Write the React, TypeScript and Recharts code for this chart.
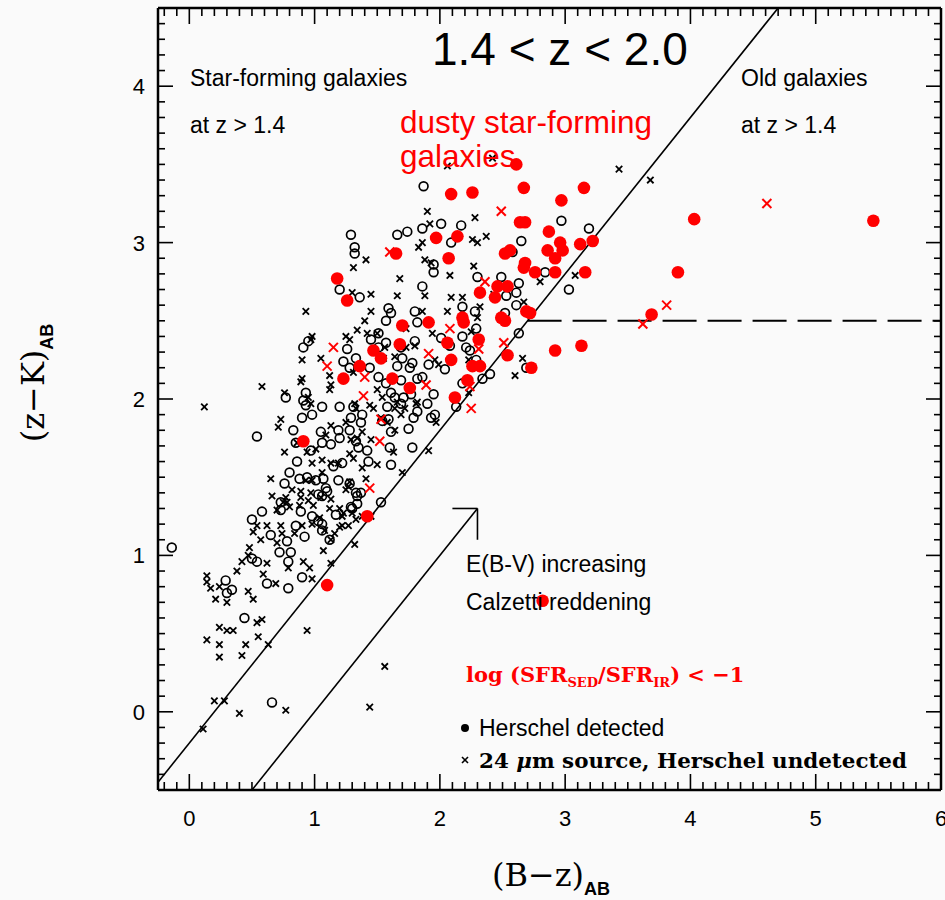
import React from "react";
import { ReferenceLine, Scatter, ScatterChart, XAxis, YAxis } from "recharts";

// (B-z, z-K) colours
const herschelDetected = [
  [1.87, 3.36], [2.01, 3.12], [1.86, 3.09], [1.74, 3.07], [1.66, 3.05], [1.29, 3.05], [1.32, 2.97], [1.95, 2.86],
  [1.95, 2.81], [1.86, 2.72], [1.2, 2.7], [1.36, 2.65], [2.17, 3.11], [2.09, 3.0], [2.58, 2.94], [2.65, 3.01],
  [2.97, 3.14], [3.19, 3.09], [3.03, 2.7], [2.84, 2.81], [2.3, 2.78], [2.49, 2.78], [2.63, 2.74], [2.61, 2.68],
  [2.53, 2.66], [1.8, 2.56], [1.82, 2.49], [2.18, 2.59], [2.28, 2.56], [2.52, 2.55], [2.61, 2.6], [2.29, 2.45],
  [2.18, 2.4], [2.01, 2.39], [1.8, 2.37], [2.08, 2.34], [2.21, 2.33], [2.24, 2.31], [2.63, 2.42], [1.91, 2.22],
  [2.04, 2.19], [2.29, 2.25], [1.7, 2.26], [1.76, 2.2], [1.82, 2.13], [1.86, 2.14], [2.18, 2.1], [2.34, 2.13],
  [2.4, 2.16], [2.69, 2.2], [1.71, 2.01], [1.77, 2.03], [1.95, 2.03], [1.9, 1.97], [2.13, 1.95], [1.79, 1.88],
  [1.82, 1.92], [1.93, 1.88], [1.96, 1.9], [1.75, 1.81], [1.78, 1.69], [1.32, 2.93], [1.59, 2.58], [1.61, 2.55],
  [1.57, 2.5], [1.57, 2.36], [1.69, 2.33], [1.78, 2.23], [1.66, 2.21], [1.51, 2.42], [1.45, 2.38], [1.51, 2.33],
  [1.26, 2.32], [1.23, 2.24], [1.33, 2.26], [1.28, 2.2], [1.44, 2.2], [1.51, 2.14], [1.57, 2.1], [1.61, 2.04],
  [1.69, 2.12], [1.69, 1.97], [1.64, 2.01], [1.58, 1.95], [1.61, 1.79], [1.59, 1.87], [1.54, 1.86], [1.6, 1.69],
  [1.61, 1.58], [1.37, 1.85], [1.29, 1.88], [1.38, 1.9], [1.31, 1.95], [1.2, 1.95], [1.06, 1.95], [0.98, 1.9],
  [0.9, 1.88], [0.93, 1.96], [0.91, 1.99], [0.93, 2.04], [0.77, 2.01], [0.91, 2.33], [0.95, 2.37], [1.19, 1.8],
  [1.28, 1.8], [1.2, 1.75], [1.13, 1.71], [1.33, 1.73], [1.35, 1.69], [1.42, 1.67], [1.43, 1.6], [1.22, 1.59],
  [1.15, 1.57], [1.05, 1.79], [1.06, 1.72], [0.97, 1.67], [0.83, 1.8], [0.85, 1.72], [0.86, 1.6], [0.8, 1.53],
  [0.76, 1.46], [0.88, 1.49], [0.94, 1.5], [1.01, 1.48], [1.07, 1.49], [1.09, 1.43], [1.03, 1.39], [1.06, 1.38],
  [1.1, 1.41], [1.19, 1.48], [1.28, 1.46], [1.33, 1.4], [1.34, 1.38], [1.37, 1.4], [1.29, 1.31], [1.34, 1.33],
  [1.17, 1.26], [0.98, 1.25], [0.89, 1.28], [0.73, 1.29], [0.73, 1.34], [0.58, 1.28], [0.5, 1.23], [0.65, 1.13],
  [0.85, 1.19], [0.92, 1.12], [0.78, 1.09], [1.06, 1.2], [1.12, 1.1], [1.06, 1.16], [1.53, 1.34], [0.54, 1.76],
  [-0.14, 1.05], [0.81, 1.02], [0.79, 0.96], [0.72, 1.02], [0.5, 0.98], [0.54, 0.96], [0.29, 0.84], [0.34, 0.78],
  [0.3, 0.76], [0.62, 0.82], [0.79, 0.79], [0.9, 0.86], [0.44, 0.6], [0.66, 0.06], [1.03, 1.22], [1.3, 1.3],
];

const undetected24um = [
  [1.9, 3.2], [1.92, 3.12], [1.86, 3.0], [1.83, 2.97], [1.88, 2.89], [1.41, 2.89], [1.31, 2.84], [1.68, 2.77],
  [1.45, 2.67], [1.66, 2.66], [1.88, 2.66], [1.3, 2.68], [2.06, 3.49], [2.42, 3.54], [3.43, 3.47], [3.68, 3.4],
  [2.28, 3.16], [2.37, 3.04], [2.26, 3.02], [2.3, 3.0], [1.93, 2.87], [2.27, 2.85], [2.08, 2.79], [3.08, 2.79],
  [2.8, 2.75], [2.43, 2.67], [2.09, 2.65], [2.18, 2.65], [2.67, 2.62], [2.06, 2.56], [1.86, 2.56], [2.3, 2.52],
  [2.32, 2.59], [2.25, 2.43], [1.94, 2.42], [1.73, 2.45], [1.8, 2.34], [2.23, 2.25], [1.96, 2.25], [1.99, 2.22],
  [2.66, 2.26], [2.6, 2.15], [1.69, 2.33], [1.82, 1.98], [1.72, 1.94], [1.97, 1.85], [2.23, 2.04], [1.91, 1.67],
  [1.7, 1.53], [1.45, 2.56], [0.93, 2.56], [0.98, 2.4], [0.97, 2.38], [0.9, 2.25], [1.05, 2.26], [1.25, 2.4],
  [1.28, 2.38], [1.4, 2.5], [1.34, 2.44], [1.42, 2.42], [1.5, 2.42], [1.56, 2.33], [1.55, 2.26], [1.64, 2.27],
  [1.73, 2.33], [0.9, 2.13], [0.89, 2.11], [1.12, 2.15], [0.58, 2.08], [0.12, 1.95], [0.76, 2.04], [1.13, 2.09],
  [1.12, 2.06], [1.31, 2.17], [1.5, 2.06], [1.54, 2.01], [1.64, 1.94], [1.66, 1.98], [1.69, 1.9], [1.32, 1.97],
  [1.33, 1.94], [1.44, 1.96], [1.47, 1.94], [1.53, 1.88], [1.58, 1.85], [1.64, 1.8], [1.81, 1.97], [1.63, 1.66],
  [1.5, 1.58], [1.38, 1.56], [1.41, 1.49], [1.28, 1.47], [1.25, 1.42], [1.2, 1.3], [1.23, 1.27], [0.95, 2.01],
  [0.97, 1.97], [0.73, 1.87], [0.71, 1.82], [0.86, 1.72], [0.76, 1.66], [0.94, 1.66], [1.01, 1.68], [0.98, 1.59],
  [1.09, 1.77], [1.13, 1.83], [1.25, 1.85], [1.29, 1.74], [1.34, 1.75], [1.38, 1.79], [1.45, 1.74], [1.28, 1.65],
  [1.31, 1.62], [1.19, 1.59], [1.13, 1.59], [1.06, 1.61], [1.06, 1.53], [0.98, 1.48], [0.93, 1.48], [0.82, 1.42],
  [0.89, 1.41], [0.97, 1.4], [0.65, 1.49], [0.66, 1.38], [0.77, 1.37], [0.75, 1.34], [0.8, 1.31], [0.89, 1.37],
  [0.95, 1.35], [0.99, 1.32], [1.05, 1.37], [1.13, 1.36], [1.12, 1.3], [1.27, 1.44], [1.22, 1.25], [1.33, 1.23],
  [0.54, 1.19], [0.51, 1.15], [0.57, 1.1], [0.73, 1.19], [0.74, 1.14], [0.84, 1.14], [0.9, 1.19], [0.98, 1.2],
  [1.04, 1.24], [1.08, 1.16], [1.13, 1.1], [1.22, 1.19], [1.27, 1.19], [1.38, 1.25], [0.7, 1.08], [0.48, 1.05],
  [1.32, 1.07], [0.14, 0.87], [0.14, 0.83], [0.17, 0.79], [0.21, 0.72], [0.3, 0.7], [0.24, 0.8], [0.38, 0.9],
  [0.42, 0.96], [0.47, 1.0], [0.62, 0.95], [0.59, 0.88], [0.69, 0.82], [0.47, 0.77], [0.51, 0.72], [0.62, 1.19],
  [0.79, 0.92], [0.91, 0.96], [0.96, 0.92], [0.98, 0.85], [1.07, 1.03], [1.13, 0.95], [1.16, 1.14], [1.2, 1.18],
  [1.3, 1.27], [1.45, 1.25], [0.24, 0.54], [0.3, 0.52], [0.35, 0.52], [0.14, 0.46], [0.24, 0.43], [0.24, 0.35],
  [0.42, 0.36], [0.45, 0.43], [0.54, 0.57], [0.58, 0.59], [0.55, 0.48], [0.63, 0.43], [0.94, 0.52], [0.2, 0.07],
  [0.28, 0.07], [0.4, -0.01], [0.77, 0.01], [0.11, -0.11], [1.44, 0.03], [1.56, 0.29], [0.7, 1.29], [0.78, 1.34],
  [0.88, 1.32],
];

// log(SFR_SED/SFR_IR) < -1
const dustyDetected = [
  [2.61, 3.5], [2.09, 3.31], [2.26, 3.32], [2.67, 3.35], [3.15, 3.35], [2.97, 3.27], [2.64, 3.13], [2.68, 3.13],
  [2.87, 3.07], [1.97, 3.03], [2.14, 3.04], [2.96, 3.0], [3.12, 2.99], [3.22, 3.01], [4.03, 3.15], [5.46, 3.14],
  [2.86, 2.95], [2.98, 2.95], [2.52, 2.93], [2.56, 2.95], [2.92, 2.9], [2.07, 2.9], [2.68, 2.87], [2.67, 2.84],
  [2.76, 2.81], [2.92, 2.81], [3.16, 2.81], [3.9, 2.81], [2.32, 2.68], [2.46, 2.72], [2.54, 2.72], [2.44, 2.65],
  [2.18, 2.52], [2.19, 2.49], [1.91, 2.49], [1.7, 2.47], [2.49, 2.52], [2.52, 2.5], [2.69, 2.56], [2.72, 2.55],
  [3.69, 2.54], [2.31, 2.38], [2.06, 2.36], [1.68, 2.35], [2.54, 2.28], [2.92, 2.31], [3.13, 2.34], [2.09, 2.25],
  [2.26, 2.21], [2.32, 2.21], [2.73, 2.2], [2.22, 2.12], [1.76, 2.07], [2.12, 2.01], [1.65, 2.93], [1.18, 2.77],
  [1.26, 2.63], [1.47, 2.31], [1.53, 2.26], [1.36, 2.21], [1.23, 2.13], [1.62, 2.13], [0.91, 1.73], [1.42, 1.25],
  [1.1, 0.81], [2.82, 0.71],
];

const dustyUndetected = [
  [2.49, 3.2], [2.36, 2.75], [4.61, 3.25], [3.81, 2.6], [3.62, 2.48], [2.08, 2.45], [2.31, 2.32], [2.51, 2.36],
  [1.91, 2.29], [1.89, 2.09], [2.24, 2.08], [2.25, 1.94], [1.6, 2.94], [1.15, 2.33], [1.1, 2.21], [1.4, 2.14],
  [1.39, 2.02], [1.53, 1.87], [1.52, 1.73], [1.44, 1.43],
];

// selection boundaries and reddening vector, in data units
const colourCut = [[-0.25, -0.45], [4.7, 4.5]];
const oldCut = [[2.7, 2.5], [6, 2.5]];
const reddeningShaft = [[0.5, -0.5], [2.3, 1.3]];
const arrowHeadTop = [[2.1, 1.3], [2.3, 1.3]];
const arrowHeadSide = [[2.3, 1.3], [2.3, 1.1]];

const xTickLabels = [0, 1, 2, 3, 4, 5, 6];
const yTickLabels = [0, 1, 2, 3, 4];
const xMinorTicks = Array.from({ length: 63 }, (_, i) => (i - 2) / 10);
const yMinorTicks = Array.from({ length: 49 }, (_, i) => (i - 4) / 10);

const SANS = "'Liberation Sans', Arial, Helvetica, sans-serif";
const NARROW = "'Liberation Sans Narrow', 'Liberation Sans', Arial, sans-serif";
const SERIF = "'DejaVu Serif', 'Liberation Serif', serif";
const BG = "#fafafa";

const pts = (rows: number[][]) => rows.map(([x, y]) => ({ x, y }));
const seg = (rows: number[][]) => rows.map(([x, y]) => ({ x, y }));
const isMajor = (v: number) => Math.abs(v - Math.round(v)) < 1e-6;

function BottomTick({ x, y, payload }: any) {
  const v = payload.value;
  const major = isMajor(v);
  return (
    <g>
      <line x1={x} x2={x} y1={y} y2={y - (major ? 16 : 8)} stroke="#000" strokeWidth={1.6} />
      {major && xTickLabels.includes(Math.round(v)) && (
        <text x={x} y={y + 36} textAnchor="middle" fontSize={22} fontFamily={NARROW} fill="#000">
          {Math.round(v)}
        </text>
      )}
    </g>
  );
}

function TopTick({ x, y, payload }: any) {
  const major = isMajor(payload.value);
  return <line x1={x} x2={x} y1={y} y2={y + (major ? 16 : 8)} stroke="#000" strokeWidth={1.6} />;
}

function LeftTick({ x, y, payload }: any) {
  const v = payload.value;
  const major = isMajor(v);
  return (
    <g>
      <line x1={x} x2={x + (major ? 15 : 7)} y1={y} y2={y} stroke="#000" strokeWidth={1.6} />
      {major && yTickLabels.includes(Math.round(v)) && (
        <text x={x - 13} y={y + 8} textAnchor="end" fontSize={22} fontFamily={SANS} fill="#000">
          {Math.round(v)}
        </text>
      )}
    </g>
  );
}

function RightTick({ x, y, payload }: any) {
  const major = isMajor(payload.value);
  return <line x1={x} x2={x - (major ? 15 : 7)} y1={y} y2={y} stroke="#000" strokeWidth={1.6} />;
}

const OpenCircle = (p: any) => (
  <circle cx={p.cx} cy={p.cy} r={4.4} fill="none" stroke="#000" strokeWidth={1.7} />
);
const RedDot = (p: any) => <circle cx={p.cx} cy={p.cy} r={6.3} fill="#ff0000" />;
const cross = (h: number, color: string, w: number) => (p: any) => (
  <g stroke={color} strokeWidth={w}>
    <line x1={p.cx - h} y1={p.cy - h} x2={p.cx + h} y2={p.cy + h} />
    <line x1={p.cx - h} y1={p.cy + h} x2={p.cx + h} y2={p.cy - h} />
  </g>
);

function Annotations() {
  return (
    <svg width={945} height={900} style={{ position: "absolute", left: 0, top: 0, pointerEvents: "none" }}>
      <text x={432} y={65} fontSize={46} fontFamily={SANS} fill="#000">1.4 &lt; z &lt; 2.0</text>
      <g fontSize={23} fontFamily={SANS} fill="#000">
        <text x={190} y={86}>Star-forming galaxies</text>
        <text x={190} y={133}>at z &gt; 1.4</text>
        <text x={741} y={86}>Old galaxies</text>
        <text x={741} y={133}>at z &gt; 1.4</text>
        <text x={466} y={572}>E(B-V) increasing</text>
        <text x={466} y={610}>Calzetti reddening</text>
        <text x={479} y={736}>Herschel detected</text>
      </g>
      <g fontSize={31.5} fontFamily={SANS} fill="#ff0000">
        <text x={400} y={133}>dusty star-forming</text>
        <text x={400} y={167}>galaxies</text>
      </g>
      <text x={466} y={682} fontSize={21} fontFamily={SERIF} fontWeight="bold" fill="#ff0000">
        log (SFR<tspan fontSize={13} dy={5}>SED</tspan>
        <tspan dy={-5}>/SFR</tspan>
        <tspan fontSize={13} dy={5}>IR</tspan>
        <tspan dy={-5}>) &lt; −1</tspan>
      </text>
      <circle cx={465} cy={728} r={4} fill="#000" />
      <g stroke="#000" strokeWidth={1.6}>
        <line x1={462} y1={757} x2={468} y2={763} />
        <line x1={462} y1={763} x2={468} y2={757} />
      </g>
      <text x={479} y={768} fontSize={21} fontFamily={SERIF} fontWeight="bold" fill="#000" textLength={428} lengthAdjust="spacingAndGlyphs">
        24 <tspan fontStyle="italic">μ</tspan>m source, Herschel undetected
      </text>
      <text x={551} y={886} textAnchor="middle" fontFamily={SERIF} fill="#000">
        <tspan fontSize={32}>(B−z)</tspan>
        <tspan fontSize={18} dy={9} fontFamily={NARROW} fontWeight="bold">AB</tspan>
      </text>
      <text transform="translate(44,383) rotate(-90)" textAnchor="middle" fontFamily={SERIF} fill="#000">
        <tspan fontSize={32}>(z−K)</tspan>
        <tspan fontSize={18} dy={9} fontFamily={NARROW} fontWeight="bold">AB</tspan>
      </text>
    </svg>
  );
}

export default function App() {
  const lineProps = { xAxisId: "b", yAxisId: "l", stroke: "#000", ifOverflow: "visible" as const };
  return (
    <div style={{ position: "absolute", left: 0, top: 0, width: 945, height: 900, background: BG, overflow: "hidden" }}>
      <ScatterChart width={945} height={900} margin={{ top: 4, right: 2, bottom: 70, left: 118 }}>
        <XAxis xAxisId="b" type="number" dataKey="x" domain={[-0.25, 6]} allowDataOverflow ticks={xMinorTicks}
          interval={0} height={40} tickSize={0} tickMargin={0} tickLine={false}
          axisLine={{ stroke: "#000", strokeWidth: 2.5 }} tick={(p: any) => <BottomTick {...p} />} />
        <XAxis xAxisId="t" orientation="top" type="number" dataKey="x" domain={[-0.25, 6]} allowDataOverflow
          ticks={xMinorTicks} interval={0} height={4} tickSize={0} tickMargin={0} tickLine={false}
          axisLine={{ stroke: "#000", strokeWidth: 2.5 }} tick={(p: any) => <TopTick {...p} />} />
        <YAxis yAxisId="l" type="number" dataKey="y" domain={[-0.5, 4.5]} allowDataOverflow ticks={yMinorTicks}
          interval={0} width={40} tickSize={0} tickMargin={0} tickLine={false}
          axisLine={{ stroke: "#000", strokeWidth: 2.5 }} tick={(p: any) => <LeftTick {...p} />} />
        <YAxis yAxisId="r" orientation="right" type="number" dataKey="y" domain={[-0.5, 4.5]} allowDataOverflow
          ticks={yMinorTicks} interval={0} width={2} tickSize={0} tickMargin={0} tickLine={false}
          axisLine={{ stroke: "#000", strokeWidth: 2.5 }} tick={(p: any) => <RightTick {...p} />} />
        <ReferenceLine {...lineProps} segment={seg(colourCut)} strokeWidth={1.6} />
        <ReferenceLine {...lineProps} segment={seg(oldCut)} strokeWidth={2} strokeDasharray="34 11" />
        <ReferenceLine {...lineProps} segment={seg(reddeningShaft)} strokeWidth={1.6} />
        <ReferenceLine {...lineProps} segment={seg(arrowHeadTop)} strokeWidth={1.6} />
        <ReferenceLine {...lineProps} segment={seg(arrowHeadSide)} strokeWidth={1.6} />
        <Scatter xAxisId="b" yAxisId="l" data={pts(herschelDetected)} shape={OpenCircle} isAnimationActive={false} />
        <Scatter xAxisId="b" yAxisId="l" data={pts(undetected24um)} shape={cross(3.2, "#000", 1.8)} isAnimationActive={false} />
        <Scatter xAxisId="b" yAxisId="l" data={pts(dustyDetected)} shape={RedDot} isAnimationActive={false} />
        <Scatter xAxisId="b" yAxisId="l" data={pts(dustyUndetected)} shape={cross(4.5, "#ff0000", 2)} isAnimationActive={false} />
      </ScatterChart>
      <Annotations />
    </div>
  );
}
